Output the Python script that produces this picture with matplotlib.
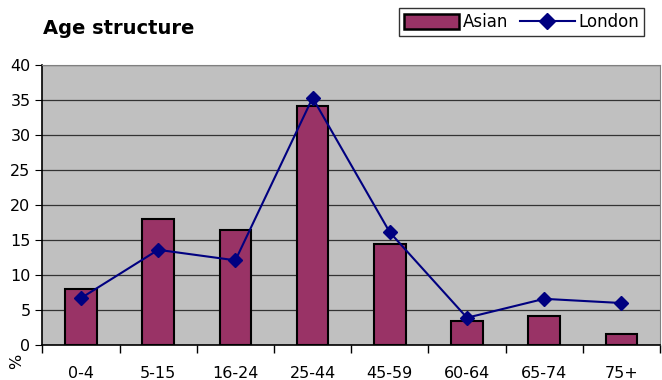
import numpy as np
import matplotlib
matplotlib.use('Agg')
import matplotlib.pyplot as plt
from matplotlib.lines import Line2D
from matplotlib.patches import Patch

age_groups = ['0-4', '5-15', '16-24', '25-44', '45-59', '60-64', '65-74', '75+']
asian = [8.0, 18.0, 16.4, 34.1, 14.4, 3.4, 4.1, 1.6]
london = [6.7, 13.6, 12.1, 35.3, 16.1, 3.9, 6.6, 6.0]

bar_color = '#993366'
line_color = '#000080'

fig = plt.figure(figsize=(6.62, 3.8), dpi=100)
ax = fig.add_axes([0.064, 0.092, 0.933, 0.737])
ax.set_facecolor('#C0C0C0')

x = np.arange(len(age_groups))
ax.bar(x, asian, width=0.41, color=bar_color, edgecolor='black', linewidth=1.5, zorder=3)
ax.plot(x, london, color=line_color, marker='D', markersize=7, linewidth=1.5, zorder=4)

ax.set_xlim(-0.5, len(age_groups) - 0.5)
ax.set_ylim(0, 40)
ax.set_yticks(range(0, 41, 5))
ax.yaxis.grid(True, color='#333333', linewidth=0.9, zorder=1)

ax.set_xticks(x)
ax.set_xticklabels(age_groups, fontsize=11.5)
ax.tick_params(axis='x', length=0, pad=15)
ax.set_xticks(np.arange(-0.5, len(age_groups)), minor=True)
ax.tick_params(axis='x', which='minor', length=6, direction='out', width=1, color='black')
ax.tick_params(axis='y', length=5, direction='out', labelsize=11.5, color='black')

for side in ['top', 'right']:
    ax.spines[side].set_color('#808080')
ax.spines['left'].set_linewidth(1.2)
ax.spines['bottom'].set_linewidth(1.2)

fig.text(0.025, 0.03, '%', rotation=90, fontsize=11.5, ha='center', va='bottom')
fig.text(0.065, 0.925, 'Age structure', fontsize=14, fontweight='bold', va='center')

handles = [Patch(facecolor=bar_color, edgecolor='black', linewidth=1.8),
           Line2D([0], [0], color=line_color, marker='D', markersize=8, linewidth=1.5)]
leg = fig.legend(handles, ['Asian', 'London'], loc='upper right', bbox_to_anchor=(0.985, 1.0),
                 ncol=2, frameon=True, fancybox=False, edgecolor='black', fontsize=12,
                 handlelength=3.3, handleheight=1.0, columnspacing=0.7, handletextpad=0.2,
                 borderpad=0.3)
leg.get_frame().set_linewidth(1.0)

plt.savefig('out.png', dpi=100)
plt.close()
